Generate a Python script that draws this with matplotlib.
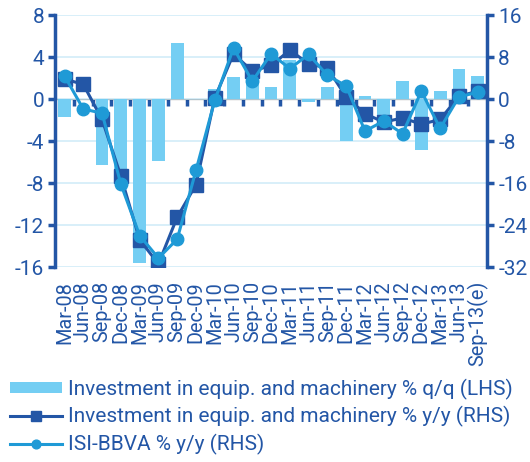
import numpy as np
import matplotlib.pyplot as plt

quarters = ["Mar-08", "Jun-08", "Sep-08", "Dec-08", "Mar-09", "Jun-09", "Sep-09", "Dec-09",
            "Mar-10", "Jun-10", "Sep-10", "Dec-10", "Mar-11", "Jun-11", "Sep-11", "Dec-11",
            "Mar-12", "Jun-12", "Sep-12", "Dec-12", "Mar-13", "Jun-13", "Sep-13(e)"]

# % q/q (LHS)
inv_qq = [-1.7, 0.0, -6.3, -7.4, -15.6, -5.9, 5.35, 0.0,
          1.0, 2.1, 1.9, 1.15, 3.7, -0.3, 1.1, -4.0,
          0.3, -2.0, 1.7, -4.9, 0.8, 2.9, 2.2]
# % y/y (RHS)
inv_yy = [3.8, 2.8, -3.9, -14.7, -26.8, -31.4, -22.5, -16.3,
          0.2, 8.6, 5.3, 6.4, 9.3, 6.7, 5.9, 0.4,
          -2.8, -4.4, -3.6, -4.8, -3.9, 0.5, 1.5]
isi_yy = [4.4, -1.9, -2.7, -16.2, -26.0, -30.3, -26.7, -13.6,
          -0.25, 9.7, 3.4, 8.6, 5.8, 8.5, 4.5, 2.5,
          -6.1, -4.2, -6.6, 1.5, -5.6, 0.4, 1.3]

dark = "#2356a6"
mid = "#1f9ad6"
light = "#74cef3"
grid_c = "#d2ecf8"

plt.rcParams["font.family"] = ["Roboto", "DejaVu Sans"]
plt.rcParams["axes.unicode_minus"] = False

fig = plt.figure(figsize=(5.3, 4.62), dpi=100)
ax = fig.add_axes([0.104, 0.422, 0.815, 0.5455])
ax2 = ax.twinx()

x = np.arange(len(quarters))
bars = ax.bar(x, inv_qq, width=0.68, color=light, zorder=2,
              label="Investment in equip. and machinery % q/q (LHS)")
ax.set_xlim(-0.5, len(quarters) - 0.5)
ax.set_ylim(-16, 8)
ax.set_yticks(range(-16, 9, 4))
ax.grid(axis="y", color=grid_c, lw=1.2, zorder=0)
ax.set_axisbelow(True)

ln1, = ax2.plot(x, inv_yy, color=dark, lw=2.2, marker="s", ms=9.5,
                label="Investment in equip. and machinery % y/y (RHS)", zorder=3)
ln2, = ax2.plot(x, isi_yy, color=mid, lw=2.2, marker="o", ms=9,
                label="ISI-BBVA % y/y (RHS)", zorder=4)
ax2.set_ylim(-32, 16)
ax2.set_yticks(range(-32, 17, 8))

for a in (ax, ax2):
    for s in ("top", "bottom"):
        a.spines[s].set_visible(False)
ax.spines["right"].set_visible(False)
ax2.spines["left"].set_visible(False)
ax.spines["left"].set_color(dark)
ax.spines["left"].set_linewidth(2.5)
ax2.spines["right"].set_color(dark)
ax2.spines["right"].set_linewidth(2.5)

ax.tick_params(axis="y", direction="out", length=5, width=2.5, color=dark,
               labelcolor=dark, labelsize=15, pad=3)
ax2.tick_params(axis="y", direction="out", length=5, width=2.5, color=dark,
                labelcolor=dark, labelsize=15, pad=3)
ax.set_xticks(x, quarters, rotation=90)
ax.tick_params(axis="x", length=0, labelcolor=dark, labelsize=14.3, pad=10)

# zero line with ticks between quarters
sec = ax.secondary_xaxis(2 / 3)
sec.set_xticks(np.arange(0.5, len(quarters) - 1, 1), labels=[""] * (len(quarters) - 1))
sec.xaxis.set_ticks_position("bottom")
sec.spines["bottom"].set_color(dark)
sec.spines["bottom"].set_linewidth(3)
sec.tick_params(axis="x", direction="out", length=5, width=2.5, color=dark,
                labelbottom=False, labeltop=False)

fig.legend(handles=[bars, ln1, ln2], loc="lower left", bbox_to_anchor=(0.019, 0.015),
           frameon=False, fontsize=15, labelcolor=dark, handlelength=2.5,
           handleheight=0.5, handletextpad=0.3, labelspacing=0.32, markerscale=0.7,
           borderaxespad=0, borderpad=0)

fig.savefig("out.png", dpi=100)
